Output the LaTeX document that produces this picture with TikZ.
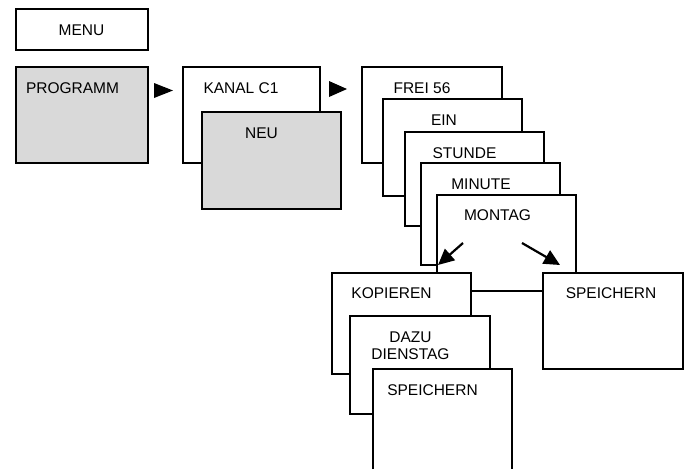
\documentclass[tikz,border=0pt]{standalone}
\usepackage{fontspec}
\setmainfont{Liberation Sans}
\usetikzlibrary{arrows.meta,calc}
\begin{document}
\begin{tikzpicture}[x=1pt,y=-1pt,
  box/.style={draw=black,line width=2pt,fill=white,inner sep=0pt,outer sep=0pt,anchor=north west},
  graybox/.style={box,fill=black!15},
  openbox/.style={draw=none,fill=white,inner sep=0pt,outer sep=0pt,anchor=north west},
  lbl/.style={inner sep=0pt,font=\fontsize{15.5}{18}\selectfont,text height=11.2pt,text depth=0pt},
  lbl2/.style={inner sep=0pt,font=\fontsize{15.5}{17}\selectfont,align=center},
  conn/.style={line width=2pt},
  arr/.style={line width=2.2pt,-{Triangle[length=16pt,width=15pt]}},
  tri/.style={fill=black}]
\useasboundingbox (0,0) rectangle (692,469);
% MENU
\node[box,minimum width=132pt,minimum height=41pt] (menu) at (16,9) {};
\node[lbl] (menut) at (81.5,29.5) {MENU};
% PROGRAMM
\node[graybox,minimum width=132pt,minimum height=96pt] (prog) at (16,67) {};
\node[lbl] (progt) at (72.5,88) {PROGRAMM};
% KANAL / NEU
\node[box,minimum width=137pt,minimum height=96pt] (kanal) at (183,67) {};
\node[lbl] (kanalt) at (241,88) {KANAL C1};
\node[graybox,minimum width=139pt,minimum height=97pt] (neu) at (202,112) {};
\node[lbl] (neut) at (261.5,133) {NEU};
% triangles
\fill[tri] ($(prog.north east)+(6,16)$) coordinate (t1a) -- ++(0,15) -- ++(19,-7.5) -- cycle;
\fill[tri] ($(kanal.north east)+(9,14)$) coordinate (t2a) -- ++(0,16) -- ++(18,-8) -- cycle;
% stack
\node[box,minimum width=140pt,minimum height=96pt] (frei) at (362,67) {};
\node[lbl] (freit) at (422,88) {FREI 56};
\node[box,minimum width=139pt,minimum height=97pt] (ein) at (383,99) {};
\node[lbl] (eint) at (444,120) {EIN};
\node[box,minimum width=139pt,minimum height=94pt] (stunde) at (405,132) {};
\node[lbl] (stundet) at (464.5,153) {STUNDE};
\node[box,minimum width=139pt,minimum height=102pt] (minute) at (421,163) {};
\node[lbl] (minutet) at (481,184) {MINUTE};
\node[openbox,minimum width=139pt,minimum height=78pt] (montag) at (437,195) {};
\draw[conn] (montag.south west) -- (montag.north west) -- (montag.north east) -- (montag.south east);
\node[lbl] (montagt) at (497.5,215) {MONTAG};
% arrows
\coordinate (a1s) at (463,243);
\coordinate (a2s) at (522,243);
\draw[arr] (a1s) -- ($(montag.south west)+(1,-8)$);
\draw[arr] (a2s) -- ($(montag.south east)+(-16,-8)$);
% lower
\node[box,minimum width=139pt,minimum height=101pt] (kop) at (332,273) {};
\node[lbl] (kopt) at (391.5,293) {KOPIEREN};
\node[box,minimum width=140pt,minimum height=96pt] (spr) at (543,273) {};
\node[lbl] (sprt) at (611,293) {SPEICHERN};
\coordinate (hl) at (0,291);
\draw[conn] (kop.east |- hl) -- (spr.west |- hl);
\node[box,minimum width=140pt,minimum height=98pt] (dazu) at (350,316) {};
\node[lbl2] (dazut) at (410.5,345.5) {DAZU\\DIENSTAG};
\node[openbox,minimum width=139pt,minimum height=100pt] (spb) at (373,369) {};
\draw[conn] (spb.south west) -- (spb.north west) -- (spb.north east) -- (spb.south east);
\node[lbl] (spbt) at (432.5,390) {SPEICHERN};
\end{tikzpicture}
\end{document}
